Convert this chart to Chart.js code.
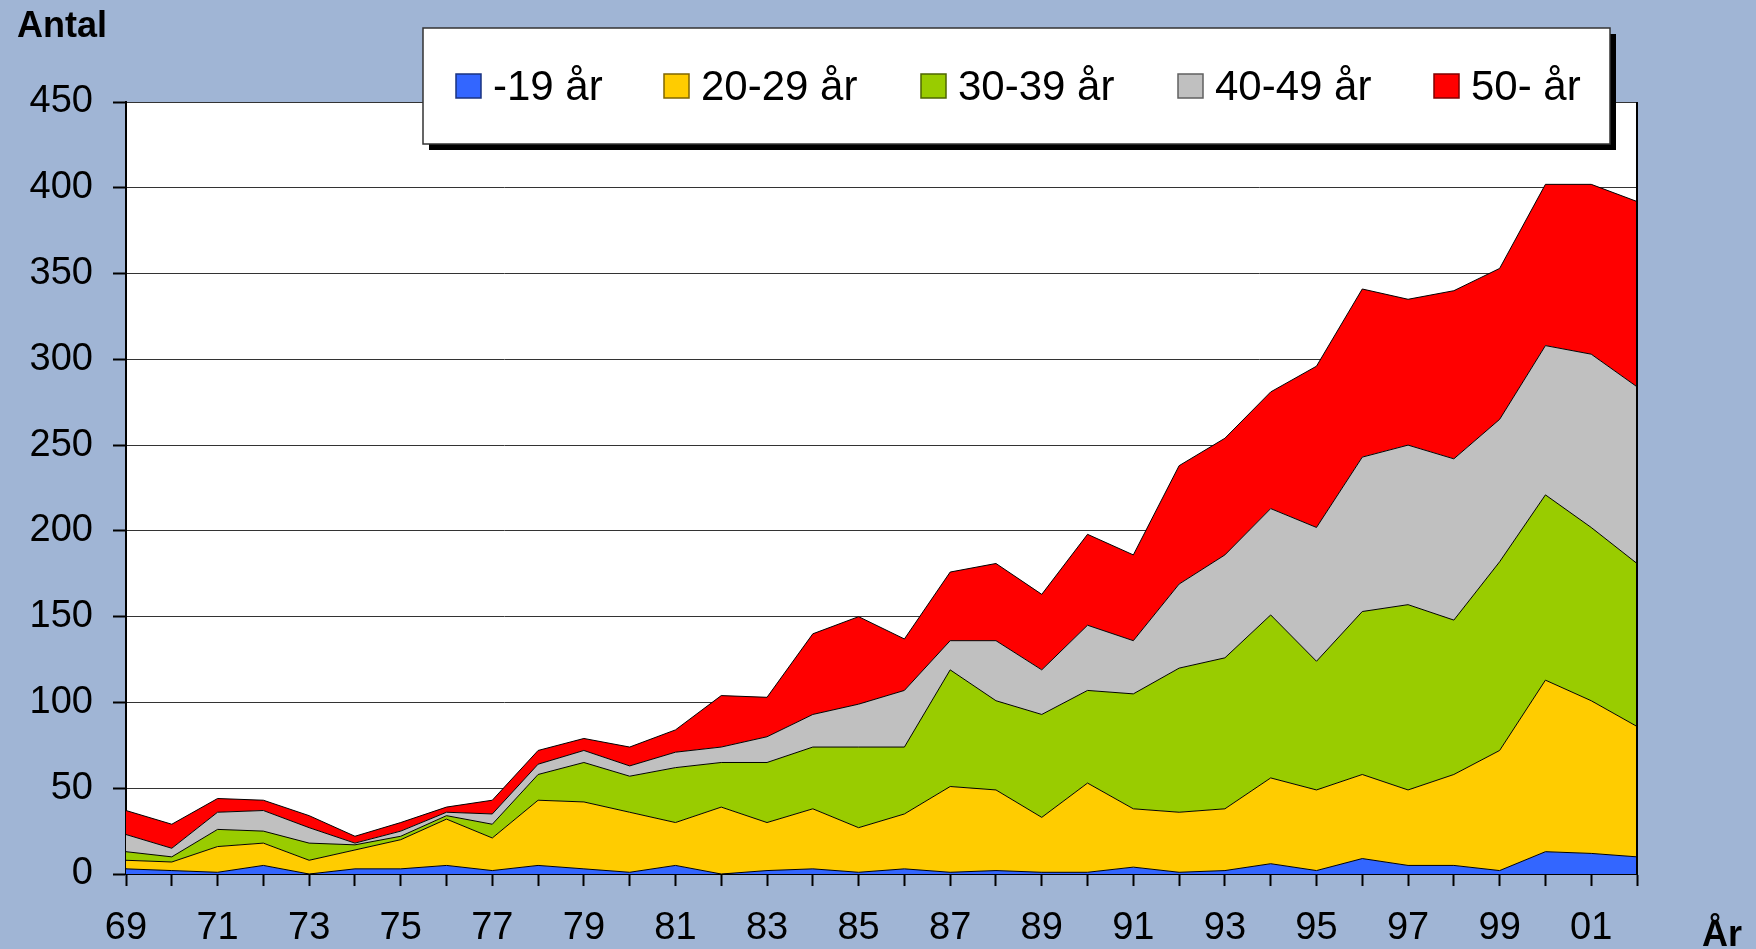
<!DOCTYPE html>
<html lang="sv">
   <head>
      <meta charset="UTF-8" />
      <script src="https://cdn.jsdelivr.net/npm/chart.js@4.4.0/dist/chart.umd.min.js"></script>
      <title>Antal per åldersgrupp</title>
      <style>
         body { margin: 0; background: #a0b5d5; }
         canvas { display: block; }
      </style>
   </head>
   <body>
      <canvas id="chart" width="1756" height="949"></canvas>
      <script>
         const years = ['69', '70', '71', '72', '73', '74', '75', '76', '77', '78', '79',
            '80', '81', '82', '83', '84', '85', '86', '87', '88', '89', '90', '91',
            '92', '93', '94', '95', '96', '97', '98', '99', '00', '01', '02'];

         const under20 = [3, 2, 1, 5, 0, 3, 3, 5, 2, 5, 3, 1, 5, 0, 2, 3, 1, 3, 1, 2, 1, 1, 4,
            1, 2, 6, 2, 9, 5, 5, 2, 13, 12, 10];
         const age20to29 = [5, 5, 15, 13, 8, 11, 17, 27, 19, 38, 39, 35, 25, 39, 28, 35, 26, 32,
            50, 47, 32, 52, 34, 35, 36, 50, 47, 49, 44, 53, 70, 100, 89, 76];
         const age30to39 = [5, 3, 10, 7, 10, 3, 2, 2, 8, 15, 23, 21, 32, 26, 35, 36, 47, 39,
            68, 52, 60, 54, 67, 84, 88, 95, 75, 95, 108, 90, 110, 108, 101, 95];
         const age40to49 = [10, 5, 10, 12, 9, 1, 3, 2, 6, 6, 7, 6, 9, 9, 15, 19, 25, 33,
            17, 35, 26, 38, 31, 49, 60, 62, 78, 90, 93, 94, 83, 87, 101, 103];
         const age50plus = [14, 14, 8, 6, 7, 4, 5, 3, 8, 8, 7, 11, 13, 30, 23, 47, 51, 30,
            40, 45, 44, 53, 50, 69, 68, 68, 94, 98, 85, 98, 88, 94, 99, 108];

         const seriesNames = ['-19 år', '20-29 år', '30-39 år', '40-49 år', '50- år'];
         const seriesColors = ['#3366ff', '#ffcc00', '#99cc00', '#c0c0c0', '#ff0000'];
         const squareEdges = ['#1a3380', '#806600', '#4d6600', '#606060', '#800000'];
         const seriesData = [under20, age20to29, age30to39, age40to49, age50plus];

         const fontName = "'Liberation Sans', Arial, sans-serif";

         const datasets = seriesData.map((values, i) => ({
            label: seriesNames[i],
            data: values,
            backgroundColor: seriesColors[i],
            borderColor: '#000',
            borderWidth: 1,
            fill: i === 0 ? 'origin' : '-1',
            pointRadius: 0,
            tension: 0,
         }));

         // background, white plot area, axis titles, right frame
         const frame = {
            id: 'frame',
            beforeDraw(chart) {
               const { ctx, chartArea: a } = chart;
               ctx.save();
               ctx.fillStyle = '#a0b5d5';
               ctx.fillRect(0, 0, chart.width, chart.height);
               ctx.fillStyle = '#fff';
               ctx.fillRect(a.left, a.top, a.right - a.left, a.bottom - a.top);
               ctx.restore();
            },
            afterDraw(chart) {
               const { ctx, chartArea: a } = chart;
               ctx.save();
               ctx.strokeStyle = '#000';
               ctx.lineWidth = 2;
               ctx.beginPath();
               ctx.moveTo(a.right, a.top);
               ctx.lineTo(a.right, a.bottom);
               ctx.stroke();

               ctx.fillStyle = '#000';
               ctx.font = 'bold 36px ' + fontName;
               ctx.textBaseline = 'alphabetic';
               ctx.textAlign = 'left';
               ctx.fillText('Antal', 17, 37);
               ctx.fillText('År', 1702, 946);
               ctx.restore();
            },
         };

         // legend box with drop shadow, sitting over the top of the plot
         const boxLegend = {
            id: 'boxLegend',
            afterDraw(chart) {
               const { ctx } = chart;
               const x = 423, y = 28, w = 1187, h = 116;
               const squareX = [456, 664, 921, 1178, 1434];
               ctx.save();
               ctx.fillStyle = '#000';
               ctx.fillRect(x + 6, y + 6, w, h);
               ctx.fillStyle = '#fff';
               ctx.fillRect(x, y, w, h);
               ctx.strokeStyle = '#333';
               ctx.lineWidth = 1.5;
               ctx.strokeRect(x, y, w, h);

               ctx.font = '42px ' + fontName;
               ctx.textBaseline = 'alphabetic';
               ctx.textAlign = 'left';
               chart.data.datasets.forEach((ds, i) => {
                  const sx = squareX[i];
                  ctx.fillStyle = ds.backgroundColor;
                  ctx.fillRect(sx, 74, 25, 24);
                  ctx.strokeStyle = squareEdges[i];
                  ctx.lineWidth = 1.5;
                  ctx.strokeRect(sx, 74, 25, 24);
                  ctx.fillStyle = '#000';
                  ctx.fillText(ds.label, sx + 37, 100);
               });
               ctx.restore();
            },
         };

         const ctx = document.getElementById('chart').getContext('2d');
         const chart = new Chart(ctx, {
            type: 'line',
            data: {
               labels: years,
               datasets: datasets,
            },
            options: {
               responsive: false,
               animation: false,
               devicePixelRatio: 1,
               layout: {
                  padding: { top: 102, right: 119, left: 0, bottom: 0 },
               },
               plugins: {
                  legend: { display: false },
                  tooltip: { enabled: false },
               },
               scales: {
                  x: {
                     offset: false,
                     grid: {
                        drawOnChartArea: false,
                        drawTicks: true,
                        tickLength: 12,
                        tickColor: '#000',
                        tickWidth: 2,
                     },
                     border: { color: '#000', width: 2 },
                     ticks: {
                        autoSkip: false,
                        maxRotation: 0,
                        color: '#000',
                        padding: 20,
                        font: { family: fontName, size: 38 },
                        callback: function(value, index) {
                           return index % 2 === 0 ? years[index] : '';
                        },
                     },
                     afterFit: function(scale) {
                        scale.height = 75;
                     },
                  },
                  y: {
                     stacked: true,
                     min: 0,
                     max: 450,
                     grid: {
                        color: '#333',
                        lineWidth: 1,
                        tickLength: 13,
                        tickColor: '#000',
                        tickWidth: 2,
                     },
                     border: { color: '#000', width: 2 },
                     ticks: {
                        stepSize: 50,
                        color: '#000',
                        padding: 20,
                        font: { family: fontName, size: 38 },
                     },
                     afterFit: function(scale) {
                        scale.width = 126;
                     },
                  },
               },
            },
            plugins: [frame, boxLegend],
         });
      </script>
   </body>
</html>
